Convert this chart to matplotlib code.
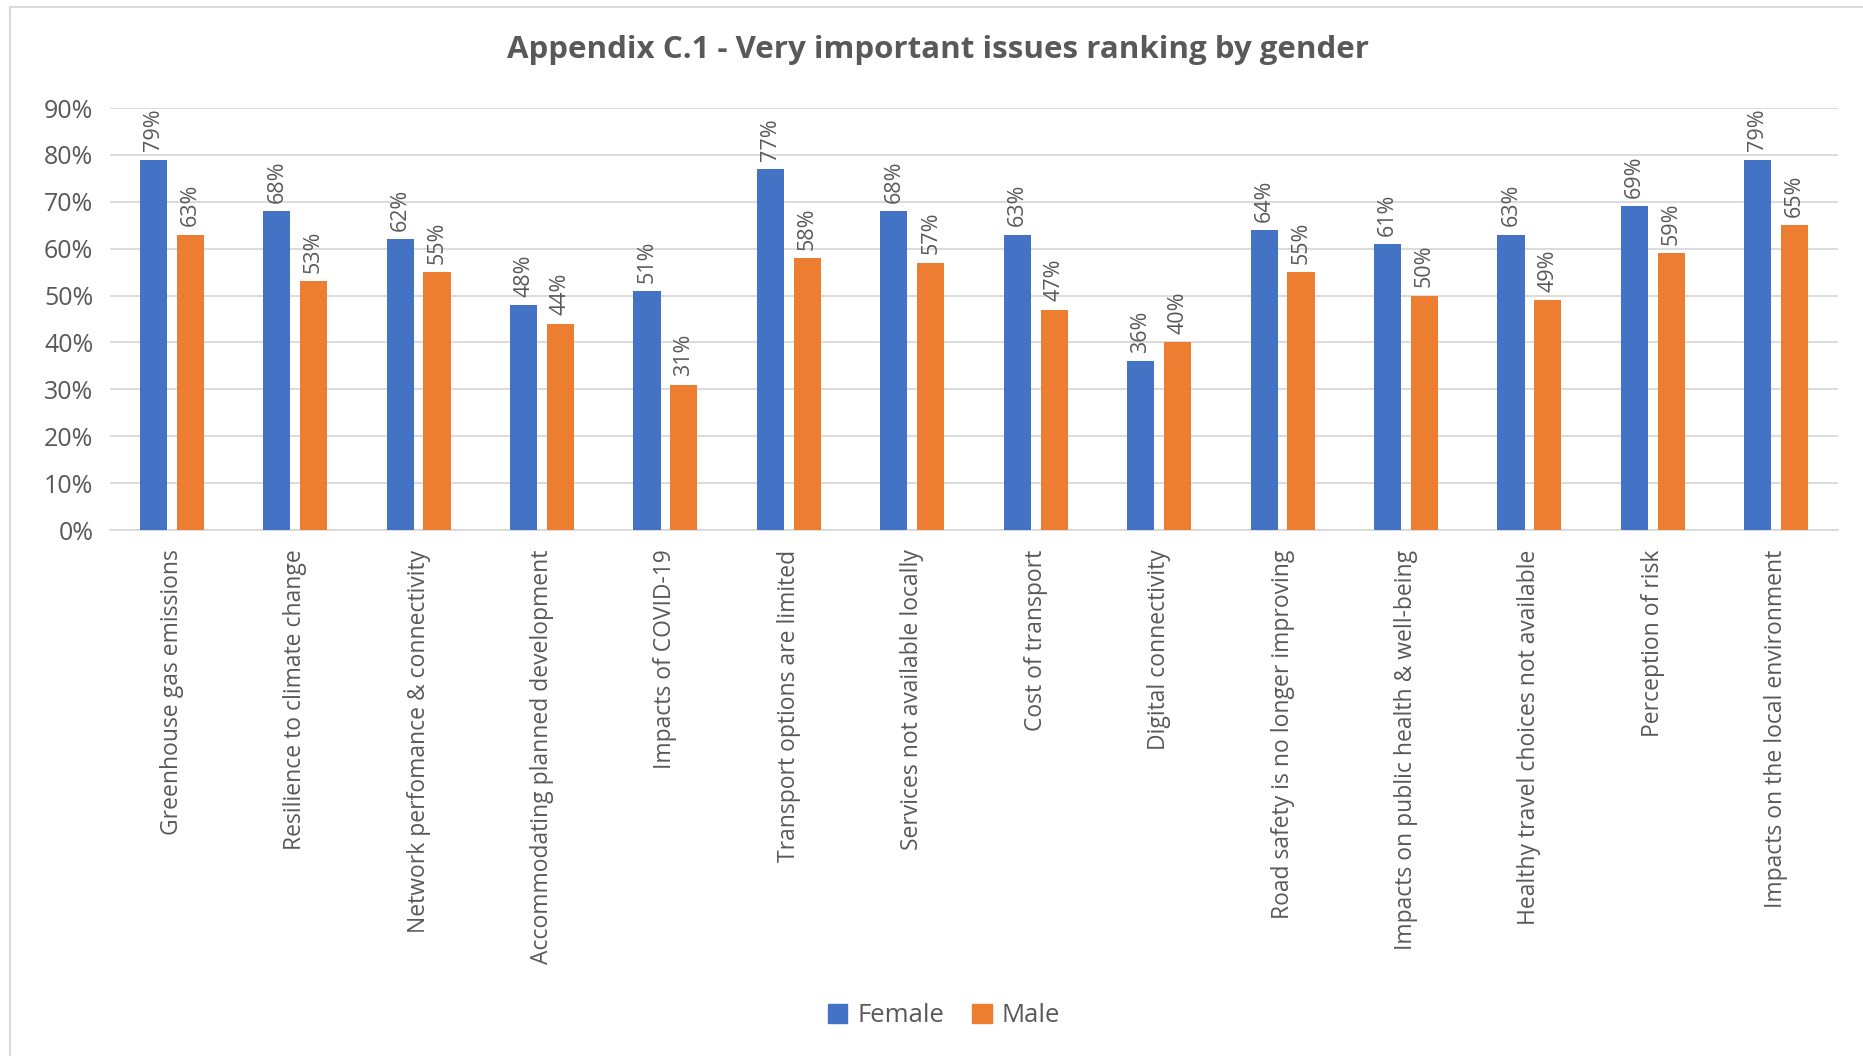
import numpy as np
import matplotlib
matplotlib.use("Agg")
import matplotlib.pyplot as plt
from matplotlib.lines import Line2D
from matplotlib.ticker import FuncFormatter, MultipleLocator

plt.rcParams['font.family'] = ['Open Sans', 'DejaVu Sans']

categories = [
    "Greenhouse gas emissions",
    "Resilience to climate change",
    "Network perfomance & connectivity",
    "Accommodating planned development",
    "Impacts of COVID-19",
    "Transport options are limited",
    "Services not available locally",
    "Cost of transport",
    "Digital connectivity",
    "Road safety is no longer improving",
    "Impacts on public health & well-being",
    "Healthy travel choices not available",
    "Perception of risk",
    "Impacts on the local environment",
]
female = [79, 68, 62, 48, 51, 77, 68, 63, 36, 64, 61, 63, 69, 79]
male = [63, 53, 55, 44, 31, 58, 57, 47, 40, 55, 50, 49, 59, 65]
series_names = ["Female", "Male"]
title = "Appendix C.1 - Very important issues ranking by gender"

BLUE = "#4472C4"
ORANGE = "#ED7D31"
TEXT = "#595959"
GRID = "#D9D9D9"

W, H = 1863, 1056
fig = plt.figure(figsize=(W / 100, H / 100), dpi=100)
fig.patch.set_facecolor("white")

# plot area in pixel coordinates
left, right, top, bottom = 110, 1838, 108, 530
ax = fig.add_axes([left / W, 1 - bottom / H, (right - left) / W, (bottom - top) / H])

x = np.arange(len(categories))
bw = 0.22
off = 0.149
fvals = np.array(female) / 100
mvals = np.array(male) / 100
bf = ax.bar(x - off, fvals, bw, color=BLUE, zorder=3)
bm = ax.bar(x + off, mvals, bw, color=ORANGE, zorder=3)

for bars, vals in ((bf, female), (bm, male)):
    for rect, v in zip(bars, vals):
        ax.annotate(f"{v}%", (rect.get_x() + rect.get_width() / 2, rect.get_height()),
                    xytext=(0, 6), textcoords="offset points", rotation=90,
                    ha="center", va="bottom", fontsize=15.5, color=TEXT)

ax.set_xlim(-0.5, len(categories) - 0.5)
ax.set_ylim(0, 0.9)
ax.yaxis.set_major_locator(MultipleLocator(0.1))
ax.yaxis.set_major_formatter(FuncFormatter(lambda v, p: f"{v * 100:.0f}%"))
ax.grid(axis="y", color=GRID, linewidth=1.3, zorder=0)
ax.set_axisbelow(True)
for s in ("top", "right", "left"):
    ax.spines[s].set_visible(False)
ax.spines["bottom"].set_color(GRID)
ax.spines["bottom"].set_linewidth(1.3)
ax.tick_params(axis="both", length=0, colors=TEXT)
ax.tick_params(axis="y", labelsize=18, pad=12)
ax.set_xticks(x)
ax.set_xticklabels(categories, rotation=90, fontsize=16.5, color=TEXT, va="top", ha="center")
ax.tick_params(axis="x", pad=14)

fig.text(938 / W, 1 - 50 / H, title, ha="center", va="center",
         fontsize=22.5, fontweight="bold", color=TEXT)

handles = [plt.Rectangle((0, 0), 1, 1, color=BLUE), plt.Rectangle((0, 0), 1, 1, color=ORANGE)]
fig.legend(handles, series_names, loc="center", bbox_to_anchor=(944 / W, 1 - 1016 / H),
           ncol=2, frameon=False, fontsize=18.5, labelcolor=TEXT, handlelength=0.75,
           handleheight=0.75, handletextpad=0.4, columnspacing=1.1)

# chart frame (top and left edges)
fig.add_artist(Line2D([10 / W, 1], [1 - 7 / H, 1 - 7 / H], transform=fig.transFigure,
                      color="#D9D9D9", linewidth=1.5))
fig.add_artist(Line2D([10 / W, 10 / W], [0, 1 - 7 / H], transform=fig.transFigure,
                      color="#D9D9D9", linewidth=1.5))

fig.savefig("out.png", dpi=100, facecolor="white")
